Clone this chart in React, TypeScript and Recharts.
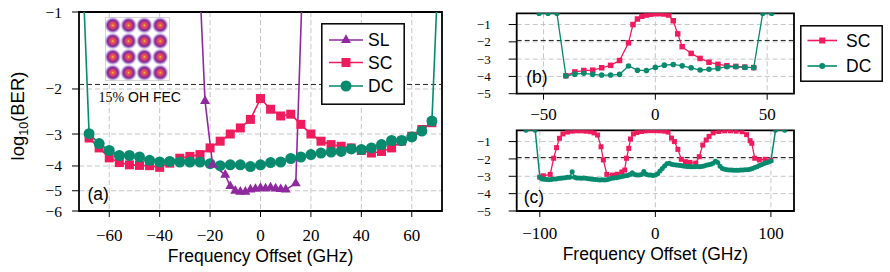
import React from 'react';
import {
  LineChart,
  Line,
  XAxis,
  YAxis,
  CartesianGrid,
  ReferenceLine,
  ReferenceArea,
  ReferenceDot,
  Legend,
} from 'recharts';

const SANS = '"Liberation Sans", Arial, Helvetica, sans-serif';
const SERIF = '"Liberation Serif", "Times New Roman", serif';

const SL_COLOR = '#8e2a9e';
const SC_COLOR = '#ee1c5c';
const DC_COLOR = '#078a6e';
const GRID_COLOR = '#c6c6c6';

// 15% OH FEC threshold as log10(BER)
const FEC_LIMIT = -1.92;

// ---- panel (a): log10(BER) vs frequency offset, three receivers ----
const aFreqSL = [-26, -22, -19, -14, -12, -10, -8, -6, -4, -2, 0, 2, 4, 6, 8, 10, 14, 18];
const aSL = [-0.3, -2.23, -3.96, -4.33, -4.8, -5.0, -5.05, -5.05, -4.95, -4.92, -4.88, -4.9, -4.86, -4.9, -4.93, -4.95, -4.68, -0.3];

const aFreqSC = [-68, -64, -60, -56, -52, -48, -44, -40, -36, -32, -28, -24, -20, -16, -12, -8, -4, 0, 4, 8, 12, 16, 20, 24, 28, 32, 36, 40, 44, 48, 52, 56, 60, 64, 68];
const aSC = [-3.11, -3.4, -3.72, -3.88, -3.96, -3.98, -3.99, -4.05, -3.9, -3.73, -3.67, -3.61, -3.4, -3.2, -3.0, -2.84, -2.63, -2.18, -2.4, -2.55, -2.51, -2.75, -3.0, -3.2, -3.3, -3.35, -3.4, -3.48, -3.56, -3.51, -3.4, -3.2, -3.06, -2.88, -2.71];

const aFreqDC = [-72, -68, -64, -60, -56, -52, -48, -44, -40, -36, -32, -28, -24, -20, -16, -12, -8, -4, 0, 4, 8, 12, 16, 20, 24, 28, 32, 36, 40, 44, 48, 52, 56, 60, 64, 68, 72];
const aDC = [-0.3, -2.99, -3.27, -3.48, -3.64, -3.64, -3.69, -3.8, -3.86, -3.84, -3.86, -3.86, -3.86, -3.92, -3.99, -3.96, -3.96, -4.02, -3.96, -3.88, -3.86, -3.74, -3.69, -3.61, -3.56, -3.53, -3.51, -3.43, -3.45, -3.4, -3.3, -3.18, -3.18, -3.08, -2.92, -2.67, -0.3];

// DC point whose constellation is shown in the inset
const STAR_FREQ = -4;

const aTicksX = [-60, -40, -20, 0, 20, 40, 60];
const aTicksY = [1, 2, 3, 4, 5, 6]; // -log10(BER) on a log axis

// ---- panel (b) ----
const bFreqSC = [-40, -36, -32, -28, -24, -20, -16, -12, -10, -8, -6, -4, -2, 0, 2, 4, 6, 8, 10, 12, 16, 20, 24, 28, 32, 36, 40, 44];
const bSC = [-3.96, -3.74, -3.66, -3.64, -3.5, -3.36, -3.08, -2.06, -1.0, -0.68, -0.52, -0.45, -0.4, -0.37, -0.37, -0.39, -0.45, -0.78, -1.54, -2.28, -2.67, -2.96, -3.18, -3.3, -3.38, -3.42, -3.46, -3.49];

const bFreqDC = [-52, -48, -44, -40, -36, -32, -28, -24, -20, -16, -12, -8, -4, 0, 4, 8, 12, 16, 20, 24, 28, 32, 36, 40, 44, 48, 52];
const bDC = [-0.35, -0.35, -0.35, -3.97, -3.87, -3.82, -3.88, -3.92, -3.92, -3.88, -3.4, -3.64, -3.66, -3.48, -3.35, -3.31, -3.39, -3.5, -3.63, -3.59, -3.54, -3.44, -3.44, -3.48, -3.49, -0.35, -0.35];

const bTicksX = [-50, 0, 50];

// ---- panel (c) ----
const cFreqSC = [-100, -97, -91, -88, -85.5, -83, -80, -76, -72, -68, -64, -60, -56, -53, -50, -47, -45, -42, -37, -33, -29, -26.5, -25, -23, -21.5, -19, -16, -12, -8, -4, 0, 4, 8, 11, 14, 16.5, 19.5, 22.5, 26, 30, 35, 38, 41, 44, 46.5, 50, 55, 60, 65, 70, 75, 79, 82, 83.5, 86, 90, 95, 100];
const cSC = [-3.05, -2.97, -2.89, -1.96, -1.35, -0.81, -0.56, -0.45, -0.4, -0.38, -0.38, -0.4, -0.43, -0.5, -0.62, -1.3, -2.06, -2.89, -2.93, -2.88, -2.75, -2.64, -1.96, -1.39, -0.85, -0.56, -0.48, -0.42, -0.38, -0.37, -0.37, -0.38, -0.4, -0.45, -0.8, -1.0, -1.45, -2.02, -2.16, -2.2, -2.24, -1.87, -1.2, -0.91, -0.7, -0.5, -0.42, -0.38, -0.38, -0.4, -0.43, -0.6, -0.95, -1.1, -1.96, -2.06, -2.02, -2.08];

const cFreqDC = [
  -112, -104,
  -100, -98, -96, -94, -92, -90, -88, -86, -84, -82,
  -80, -78, -76, -74, -72, -70, -68, -66, -64, -62,
  -60, -58, -56, -54, -52, -50, -48, -46, -44, -42,
  -40, -38, -36, -34, -32, -30, -28, -26, -24, -22,
  -20, -18, -16, -14, -12, -10, -8, -6, -4, -2,
  0, 2, 4, 6, 8, 10, 12, 14, 16, 18,
  20, 22, 24, 26, 28, 30, 32, 34, 36, 38,
  40, 42, 44, 46, 48, 50, 52, 54, 56, 58,
  60, 62, 64, 66, 68, 70, 72, 74, 76, 78,
  80, 82, 84, 86, 88, 90, 92, 94, 96, 98,
  100, 104, 112,
];
const cDC = [
  -0.35, -0.35,
  -3.05, -3.15, -3.17, -3.18, -3.2, -3.18, -3.16, -3.15, -3.13, -3.12,
  -3.1, -3.08, -3.06, -3.05, -2.74, -3.05, -3.1, -3.1, -3.12, -3.1,
  -3.12, -3.14, -3.15, -3.17, -3.18, -3.2, -3.21, -3.2, -3.22, -3.2,
  -3.15, -3.12, -3.1, -3.08, -3.05, -3.03, -3.0, -2.97, -2.95, -2.9,
  -2.8, -2.9, -2.93, -2.93, -2.9, -2.72, -2.88, -2.92, -2.93, -2.95,
  -2.93, -2.85, -2.7, -2.55, -2.4, -2.28, -2.25, -2.3, -2.33, -2.35,
  -2.37, -2.38, -2.4, -2.42, -2.44, -2.45, -2.45, -2.45, -2.44, -2.45,
  -2.43, -2.4, -2.37, -2.34, -2.3, -2.25, -2.14, -2.2, -2.42, -2.55,
  -2.6, -2.63, -2.64, -2.64, -2.65, -2.65, -2.65, -2.64, -2.64, -2.63,
  -2.62, -2.6, -2.55, -2.5, -2.45, -2.38, -2.33, -2.27, -2.22, -2.18,
  -2.12, -0.35, -0.35,
];

const cTicksX = [-100, 0, 100];
const bcTicksY = [-5, -4, -3, -2, -1];

// 16-QAM levels for the inset constellation
const QAM_LEVELS = [-3, -1, 1, 3];

type Row = { f: number; v: number };
const toRows = (freq: number[], vals: number[]): Row[] => freq.map((f, i) => ({ f, v: vals[i] }));
// panel (a) plots -log10(BER) so it can sit on a log axis
const toRowsNeg = (freq: number[], vals: number[]): Row[] => freq.map((f, i) => ({ f, v: -vals[i] }));

const aRowsSL = toRowsNeg(aFreqSL, aSL);
const aRowsSC = toRowsNeg(aFreqSC, aSC);
const aRowsDC = toRowsNeg(aFreqDC, aDC);
const bRowsSC = toRows(bFreqSC, bSC);
const bRowsDC = toRows(bFreqDC, bDC);
const cRowsSC = toRows(cFreqSC, cSC);
const cRowsDC = toRows(cFreqDC, cDC);

const starValue = -aDC[aFreqDC.indexOf(STAR_FREQ)];

const fmtMinus = (v: number) => (v < 0 ? `\u2212${Math.abs(v)}` : `${v}`);

// marker renderers
const circleDot = (r: number, color: string) => (p: any) => (
  <circle key={`c${p.index}`} cx={p.cx} cy={p.cy} r={r} fill={color} />
);
const squareDot = (s: number, color: string) => (p: any) => (
  <rect key={`s${p.index}`} x={p.cx - s / 2} y={p.cy - s / 2} width={s} height={s} fill={color} />
);
const triangleDot = (s: number, color: string) => (p: any) => {
  const h = s * 0.866;
  return (
    <polygon
      key={`t${p.index}`}
      points={`${p.cx},${p.cy - (h * 2) / 3} ${p.cx - s / 2},${p.cy + h / 3} ${p.cx + s / 2},${p.cy + h / 3}`}
      fill={color}
    />
  );
};

type Entry = { name: string; color: string; kind: 'triangle' | 'square' | 'circle' };

const Marker = ({ kind, x, y, size, color }: { kind: Entry['kind']; x: number; y: number; size: number; color: string }) => {
  if (kind === 'circle') return <circle cx={x} cy={y} r={size / 2} fill={color} />;
  if (kind === 'square') return <rect x={x - size / 2} y={y - size / 2} width={size} height={size} fill={color} />;
  const h = size * 0.866;
  return (
    <polygon
      points={`${x},${y - (h * 2) / 3} ${x - size / 2},${y + h / 3} ${x + size / 2},${y + h / 3}`}
      fill={color}
    />
  );
};

const LegendBox = ({
  entries, width, height, rows, lineFrom, lineTo, textX, markerSize,
}: {
  entries: Entry[]; width: number; height: number; rows: number[];
  lineFrom: number; lineTo: number; textX: number; markerSize: number[];
}) => (
  <svg width={width} height={height} style={{ display: 'block' }}>
    <rect x={0.8} y={0.8} width={width - 1.6} height={height - 1.6} fill="#fff" stroke="#000" strokeWidth={1.5} />
    {entries.map((e, i) => (
      <g key={e.name}>
        <line x1={lineFrom} x2={lineTo} y1={rows[i]} y2={rows[i]} stroke={e.color} strokeWidth={1.6} />
        <Marker kind={e.kind} x={(lineFrom + lineTo) / 2} y={rows[i]} size={markerSize[i]} color={e.color} />
        <text x={textX} y={rows[i]} dy="0.36em" fontFamily={SANS} fontSize={17.5} fill="#000">
          {e.name}
        </text>
      </g>
    ))}
  </svg>
);

const legendA: Entry[] = [
  { name: 'SL', color: SL_COLOR, kind: 'triangle' },
  { name: 'SC', color: SC_COLOR, kind: 'square' },
  { name: 'DC', color: DC_COLOR, kind: 'circle' },
];
const legendB: Entry[] = [
  { name: 'SC', color: SC_COLOR, kind: 'square' },
  { name: 'DC', color: DC_COLOR, kind: 'circle' },
];

// panel tag drawn in the lower-left corner of the plot frame
const PanelTag = ({ viewBox, text, dx, dy }: any) => (
  <text x={viewBox.x + dx} y={viewBox.y + viewBox.height + dy} fontFamily={SANS} fontSize={17.5} fill="#000">
    {text}
  </text>
);

const FecLabel = ({ viewBox }: any) => (
  <text x={viewBox.x + 19.5} y={viewBox.y + 17.5} fontSize={14} fill="#000">
    <tspan fontFamily={SERIF}>15%</tspan>
    <tspan fontFamily={SANS}> OH FEC</tspan>
  </text>
);

const YTitle = () => (
  <text
    x={18}
    y={116}
    transform="rotate(-90 18 116)"
    textAnchor="middle"
    dy="0.35em"
    fontFamily={SANS}
    fontSize={18.5}
    fill="#000"
  >
    log<tspan fontSize={12.5} dy={4}>10</tspan>
    <tspan dy={-4}>(BER)</tspan>
  </text>
);

// axis title centred on the plot, placed at an absolute baseline
const XTitle = ({ viewBox, baseline }: any) => (
  <text
    x={viewBox.x + viewBox.width / 2}
    y={baseline}
    textAnchor="middle"
    fontFamily={SANS}
    fontSize={17.5}
    fill="#000"
  >
    Frequency Offset (GHz)
  </text>
);

const WhiteStar = (p: any) => {
  const { cx, cy } = p;
  const r = 4.2;
  return (
    <g stroke="#fff" strokeWidth={1.5} strokeLinecap="round">
      {[90, 30, 150].map((deg) => {
        const a = (deg * Math.PI) / 180;
        return (
          <line key={deg} x1={cx - r * Math.cos(a)} y1={cy - r * Math.sin(a)} x2={cx + r * Math.cos(a)} y2={cy + r * Math.sin(a)} />
        );
      })}
    </g>
  );
};

function ConstellationInset() {
  const pos = (l: number, c: number) => c + l * 7.9;
  return (
    <svg width={65} height={64} style={{ position: 'absolute', left: 105, top: 16.5 }}>
      <defs>
        <radialGradient id="qamBlob">
          <stop offset="0" stopColor="#fcd35a" />
          <stop offset="0.12" stopColor="#f06a3a" />
          <stop offset="0.38" stopColor="#cf3b72" />
          <stop offset="0.62" stopColor="#7d2898" />
          <stop offset="0.82" stopColor="#9a72c8" stopOpacity={0.55} />
          <stop offset="1" stopColor="#cbb8e8" stopOpacity={0} />
        </radialGradient>
      </defs>
      <rect x={0.5} y={0.5} width={64} height={63} fill="#fff" stroke="#d6d6d6" />
      {QAM_LEVELS.flatMap((i) =>
        QAM_LEVELS.map((q) => (
          <circle key={`${i}${q}`} cx={pos(i, 31.5)} cy={pos(q, 32)} r={8.6} fill="url(#qamBlob)" />
        ))
      )}
    </svg>
  );
}

const tickSerif = (size: number) => ({ fontFamily: SERIF, fontSize: size, fill: '#000' });

export default function App() {
  return (
    <div style={{ position: 'absolute', left: 0, top: 0, width: 890, height: 272, background: '#fff' }}>
      {/* (a) */}
      <div style={{ position: 'absolute', left: 0, top: 0 }}>
        <LineChart width={460} height={272} margin={{ top: 12, right: 18, bottom: 0, left: 0 }}>
          <CartesianGrid
            stroke={GRID_COLOR}
            strokeDasharray="5 3"
            horizontalValues={[2, 3, 4, 5]}
            verticalValues={aTicksX}
          />
          <XAxis
            dataKey="f"
            type="number"
            domain={[-72, 72]}
            ticks={aTicksX}
            interval={0}
            allowDataOverflow
            tickFormatter={fmtMinus}
            tick={tickSerif(17)}
            tickLine={{ stroke: '#000' }}
            tickSize={6}
            tickMargin={12}
            axisLine={false}
            height={61}
            label={<XTitle baseline={262} />}
          />
          <YAxis
            type="number"
            scale="log"
            domain={[1, 6]}
            reversed
            ticks={aTicksY}
            interval={0}
            allowDataOverflow
            tickFormatter={(v: number) => `\u2212${v}`}
            tick={tickSerif(15.5)}
            tickLine={{ stroke: '#000' }}
            tickSize={7}
            tickMargin={10}
            axisLine={false}
            width={79}
            label={<YTitle />}
          />
          <ReferenceLine
            y={-FEC_LIMIT}
            stroke="#222"
            strokeWidth={1}
            strokeDasharray="5 3"
            label={<FecLabel />}
          />
          <Line data={aRowsSC} dataKey="v" stroke={SC_COLOR} strokeWidth={1.6} dot={squareDot(9, SC_COLOR)} isAnimationActive={false} />
          <Line data={aRowsDC} dataKey="v" stroke={DC_COLOR} strokeWidth={1.6} dot={circleDot(5.5, DC_COLOR)} isAnimationActive={false} />
          <Line data={aRowsSL} dataKey="v" stroke={SL_COLOR} strokeWidth={1.6} dot={triangleDot(10, SL_COLOR)} isAnimationActive={false} />
          <ReferenceDot x={STAR_FREQ} y={starValue} r={4} shape={WhiteStar} />
          <ReferenceArea
            x1={-72}
            x2={72}
            y1={1}
            y2={6}
            fill="none"
            stroke="#000"
            strokeWidth={1.8}
            label={<PanelTag text="(a)" dx={8.5} dy={-11} />}
          />
          <Legend
            layout="vertical"
            align="center"
            verticalAlign="middle"
            wrapperStyle={{ left: 321, top: 23, width: 84, height: 82 }}
            content={() => (
              <LegendBox
                entries={legendA}
                width={84}
                height={82}
                rows={[17, 39.5, 63]}
                lineFrom={8}
                lineTo={42}
                textX={47}
                markerSize={[10, 9, 11]}
              />
            )}
          />
        </LineChart>
        <ConstellationInset />
      </div>

      {/* (b) */}
      <div style={{ position: 'absolute', left: 470, top: 0 }}>
        <LineChart width={420} height={128} margin={{ top: 13.3, right: 96, bottom: 0, left: 0 }}>
          <CartesianGrid
            stroke={GRID_COLOR}
            strokeDasharray="5 3"
            horizontalValues={[-4, -3, -2, -1]}
            verticalValues={bTicksX}
          />
          <XAxis
            dataKey="f"
            type="number"
            domain={[-62, 62]}
            ticks={bTicksX}
            interval={0}
            allowDataOverflow
            tickFormatter={fmtMinus}
            tick={tickSerif(17)}
            tickLine={{ stroke: '#000' }}
            tickSize={6}
            tickMargin={8}
            axisLine={false}
            height={34.3}
          />
          <YAxis
            type="number"
            domain={[-5, -0.35]}
            ticks={bcTicksY}
            interval={0}
            allowDataOverflow
            tickFormatter={fmtMinus}
            tick={tickSerif(13)}
            tickLine={{ stroke: '#000' }}
            tickSize={8}
            tickMargin={18}
            axisLine={false}
            width={46.7}
          />
          <ReferenceLine y={FEC_LIMIT} stroke="#222" strokeWidth={1} strokeDasharray="5 3" />
          <Line data={bRowsSC} dataKey="v" stroke={SC_COLOR} strokeWidth={1.3} dot={squareDot(5.5, SC_COLOR)} isAnimationActive={false} />
          <Line data={bRowsDC} dataKey="v" stroke={DC_COLOR} strokeWidth={1.3} dot={circleDot(2.8, DC_COLOR)} isAnimationActive={false} />
          <ReferenceArea
            x1={-62}
            x2={62}
            y1={-5}
            y2={-0.35}
            fill="none"
            stroke="#000"
            strokeWidth={1.8}
            label={<PanelTag text="(b)" dx={9.5} dy={-10.5} />}
          />
          <Legend
            layout="vertical"
            align="center"
            verticalAlign="middle"
            wrapperStyle={{ left: 330, top: 24.5, width: 83, height: 57 }}
            content={() => (
              <LegendBox
                entries={legendB}
                width={83}
                height={57}
                rows={[15.5, 41]}
                lineFrom={7.5}
                lineTo={37}
                textX={46}
                markerSize={[6, 6]}
              />
            )}
          />
        </LineChart>
      </div>

      {/* (c) */}
      <div style={{ position: 'absolute', left: 470, top: 120 }}>
        <LineChart width={420} height={152} margin={{ top: 10.3, right: 96, bottom: 0, left: 0 }}>
          <CartesianGrid
            stroke={GRID_COLOR}
            strokeDasharray="5 3"
            horizontalValues={[-4, -3, -2, -1]}
            verticalValues={cTicksX}
          />
          <XAxis
            dataKey="f"
            type="number"
            domain={[-120, 120]}
            ticks={cTicksX}
            interval={0}
            allowDataOverflow
            tickFormatter={fmtMinus}
            tick={tickSerif(17)}
            tickLine={{ stroke: '#000' }}
            tickSize={6}
            tickMargin={10}
            axisLine={false}
            height={61}
            label={<XTitle baseline={140} />}
          />
          <YAxis
            type="number"
            domain={[-5, -0.35]}
            ticks={bcTicksY}
            interval={0}
            allowDataOverflow
            tickFormatter={fmtMinus}
            tick={tickSerif(13)}
            tickLine={{ stroke: '#000' }}
            tickSize={8}
            tickMargin={18}
            axisLine={false}
            width={46.7}
          />
          <ReferenceLine y={FEC_LIMIT} stroke="#222" strokeWidth={1} strokeDasharray="5 3" />
          <Line data={cRowsSC} dataKey="v" stroke={SC_COLOR} strokeWidth={1.3} dot={squareDot(5, SC_COLOR)} isAnimationActive={false} />
          <Line data={cRowsDC} dataKey="v" stroke={DC_COLOR} strokeWidth={1.5} dot={circleDot(2.5, DC_COLOR)} isAnimationActive={false} />
          <ReferenceArea
            x1={-120}
            x2={120}
            y1={-5}
            y2={-0.35}
            fill="none"
            stroke="#000"
            strokeWidth={1.8}
            label={<PanelTag text="(c)" dx={7} dy={-8.5} />}
          />
        </LineChart>
      </div>
    </div>
  );
}
